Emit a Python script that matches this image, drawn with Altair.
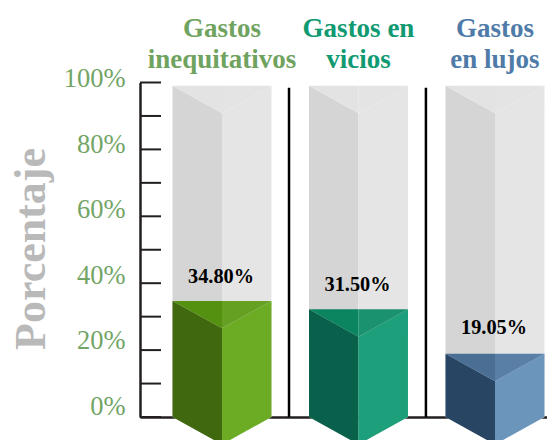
import altair as alt
import pandas as pd

# ---- chart values -------------------------------------------------------
categories = ["Gastos\ninequitativos", "Gastos en\nvicios", "Gastos\nen lujos"]
header_colors = ["#6FA35F", "#0F9A72", "#4F7BA8"]
value_labels = ["34.80%", "31.50%", "19.05%"]
fill_heights = [34.7, 32.2, 18.9]
label_heights = [40.2, 37.8, 24.9]
container_height = [99, 99, 99]
left_face = ["#3F680F", "#0A614B", "#284563"]
right_face = ["#6CAC25", "#1C9F7A", "#6C95BC"]
top_left_face = ["#559110", "#0A8560", "#4B6E95"]
top_right_face = ["#66A022", "#1A9270", "#5A7FA6"]
separators = [0.491, 1.494]
minor_ticks = [0, 10, 20, 30, 40, 50, 60, 70, 80, 90, 100]
major_ticks = [0, 20, 40, 60, 80, 100]

HALF = 0.3625   # half bar width, x units
DROP = 8.2      # isometric drop, y units
SERIF = "Liberation Serif"

x_scale = alt.Scale(domain=[-0.6007, 2.381], nice=False, zero=False)
y_scale = alt.Scale(domain=[0, 100], nice=False, zero=False)


def prism(tops, lefts, rights, tl, tr, base=0.0):
    rows = []
    for i, top in enumerate(tops):
        faces = [
            ("a", lefts[i], [(-HALF, top, base), (0, top - DROP, base - DROP)]),
            ("b", rights[i], [(0, top - DROP, base - DROP), (HALF, top, base)]),
            ("c", tl[i], [(-HALF, top, top), (0, top, top - DROP)]),
            ("d", tr[i], [(0, top, top - DROP), (HALF, top, top)]),
        ]
        for name, color, pts in faces:
            for dx, y, y2 in pts:
                rows.append(dict(x=i + dx, y=y, y2=y2, face=f"{i}{name}", color=color))
    return pd.DataFrame(rows)


n = len(categories)
grey = prism(container_height, ["#D5D5D5"] * n, ["#E5E5E5"] * n,
             ["#E3E3E3"] * n, ["#E4E4E4"] * n)
fill = prism(fill_heights, left_face, right_face, top_left_face, top_right_face)


def faces(df):
    return alt.Chart(df).mark_area(orient="vertical", clip=False, opacity=1).encode(
        x=alt.X("x:Q", scale=x_scale,
                axis=alt.Axis(title=None, labels=False, ticks=False, grid=False,
                              domainColor="#231F20", domainWidth=2.5)),
        y=alt.Y("y:Q", scale=y_scale, stack=None,
                axis=alt.Axis(title="Porcentaje", grid=False, ticks=False,
                              values=major_ticks, labelExpr="datum.value + '%'",
                              labelFont=SERIF, labelFontSize=26.5, labelColor="#72A565",
                              labelPadding=15,
                              labelOffset=alt.expr("-11 + datum.value * 0.07"),
                              domainColor="#231F20", domainWidth=2.5,
                              titleFont=SERIF, titleFontSize=44, titleFontWeight="bold",
                              titleColor="#B9B9B9", titleX=-87, titleY=166)),
        y2="y2:Q",
        detail="face:N",
        color=alt.Color("color:N", scale=None),
    )


tick_df = pd.DataFrame({"y": minor_ticks, "x": [-0.6007] * len(minor_ticks),
                        "x2": [-0.4468] * len(minor_ticks)})
ticks = alt.Chart(tick_df).mark_rule(color="#231F20", strokeWidth=2).encode(
    x=alt.X("x:Q", scale=x_scale), x2="x2:Q", y=alt.Y("y:Q", scale=y_scale))

sep_df = pd.DataFrame({"x": separators, "y": [0] * 2, "y2": [98.4] * 2})
seps = alt.Chart(sep_df).mark_rule(color="black", strokeWidth=2.5).encode(
    x=alt.X("x:Q", scale=x_scale), y=alt.Y("y:Q", scale=y_scale), y2="y2:Q")

headers = alt.Chart(pd.DataFrame({
    "x": [0, 1, 2], "y": [113.6] * 3, "t": categories, "c": header_colors,
})).mark_text(font=SERIF, fontSize=27, fontWeight="bold", lineBreak="\n",
              lineHeight=31, baseline="alphabetic", align="center", clip=False).encode(
    x=alt.X("x:Q", scale=x_scale), y=alt.Y("y:Q", scale=y_scale),
    text="t:N", color=alt.Color("c:N", scale=None))

labels = alt.Chart(pd.DataFrame({
    "x": [0, 1, 2], "y": label_heights, "t": value_labels,
})).mark_text(font=SERIF, fontSize=20.3, fontWeight="bold", color="black",
              baseline="alphabetic", align="center", dx=-1).encode(
    x=alt.X("x:Q", scale=x_scale), y=alt.Y("y:Q", scale=y_scale), text="t:N")

chart = alt.layer(faces(grey), faces(fill), ticks, seps, headers, labels).properties(
    width=407, height=334.5,
    padding={"left": 132, "top": 74.5, "right": 0, "bottom": 23},
    autosize=alt.AutoSizeParams(type="none"),
    background="white",
).configure_view(stroke=None)

chart.save("out.html", embed_options={"renderer": "svg", "actions": False})
